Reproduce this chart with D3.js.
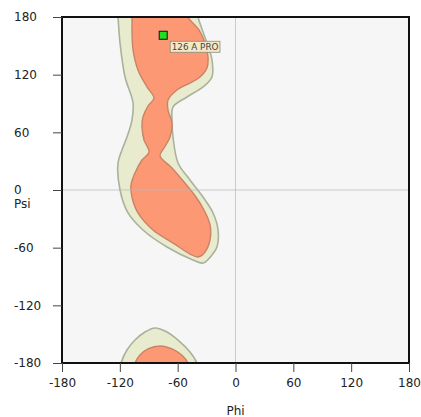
<!DOCTYPE html>
<html>
<head>
<meta charset="utf-8">
<script src="https://cdn.jsdelivr.net/npm/d3@7"></script>
<style>
  html, body { margin: 0; padding: 0; background: #fff; }
  svg { display: block; font-family: "DejaVu Sans", sans-serif; }
</style>
</head>
<body>
<svg id="chart" width="421" height="417"></svg>
<script>
// ---- data (phi, psi in degrees) ----
const tickValues = [-180, -120, -60, 0, 60, 120, 180];
const tickLabels = ["-180", "-120", "-60", "0", "60", "120", "180"];
const xLabel = "Phi";
const yLabel = "Psi";

// allowed (outer) contour, main body (extends past psi=180, periodic)
const allowedMain = [
  [-122.9, 192.5], [-121.9, 180], [-119.8, 152.9], [-114.6, 117.6], [-106.3, 90.5],
  [-107.4, 72.8], [-112.6, 55.1], [-117.8, 41.6], [-121.9, 28.1], [-119.8, 0],
  [-111.5, -23.9], [-96.0, -41.6], [-71.1, -59.3], [-44.1, -72.8], [-33.7, -76.0],
  [-24.4, -67.6], [-19.2, -59.3], [-18.1, -41.6], [-23.3, -23.9], [-33.7, -7.3],
  [-47.2, 10.4], [-59.6, 28.1], [-64.8, 55.1], [-65.9, 72.8], [-64.8, 86.4],
  [-50.3, 96.8], [-33.7, 107.2], [-24.4, 117.6], [-24.4, 135.3], [-29.6, 152.9],
  [-38.9, 180], [-41.0, 192.5]
];
// allowed contour, wrapped part at psi=-180
const allowedBottom = [
  [-120.9, -189.4], [-118.8, -180], [-112.6, -166.5], [-104.3, -156.1], [-93.9, -147.8],
  [-83.5, -143.6], [-73.1, -146.7], [-59.6, -156.1], [-47.2, -168.6], [-40.0, -180],
  [-37.9, -189.4]
];
// favored (inner) contour, main body
const favoredMain = [
  [-108.4, 192.5], [-107.4, 180], [-107.4, 166.5], [-106.3, 145.7], [-101.2, 124.9],
  [-91.8, 107.2], [-84.6, 95.7], [-90.8, 87.4], [-96.0, 75.9], [-97.0, 65.5],
  [-94.9, 52.0], [-89.7, 39.5], [-97.0, 31.2], [-104.3, 17.7], [-108.4, 5.2],
  [-107.4, -7.3], [-101.2, -23.9], [-85.6, -41.6], [-64.8, -55.2], [-47.2, -66.6],
  [-38.9, -69.7], [-31.6, -64.5], [-26.4, -52.0], [-26.4, -36.4], [-32.7, -20.8],
  [-41.0, -7.3], [-53.4, 8.3], [-65.9, 22.9], [-78.3, 35.4], [-74.2, 43.7],
  [-67.9, 55.1], [-65.9, 69.7], [-70.0, 83.2], [-70.0, 93.6], [-60.7, 104.0],
  [-47.2, 111.3], [-36.8, 117.6], [-29.6, 126.9], [-28.5, 138.4], [-31.6, 152.9],
  [-37.9, 166.5], [-49.3, 180], [-51.4, 192.5]
];
// favored contour, wrapped part at psi=-180
const favoredBottom = [
  [-106.3, -189.4], [-104.3, -180], [-99.1, -171.7], [-90.8, -165.4], [-78.3, -162.3],
  [-65.9, -165.4], [-55.5, -172.0], [-49.3, -180], [-47.2, -189.4]
];

// residue point
const residues = [{ label: "126 A PRO", phi: -75, psi: 161 }];

// ---- layout ----
const svg = d3.select("#chart");
const L = 62, R = 409, T = 17, B = 363;
const x = d3.scaleLinear().domain([-180, 180]).range([L, R]);
const y = d3.scaleLinear().domain([-180, 180]).range([B, T]);
const fmt = d => tickLabels[tickValues.indexOf(d)];

svg.append("defs").append("clipPath").attr("id", "plotclip")
  .append("rect").attr("x", L).attr("y", T).attr("width", R - L).attr("height", B - T);

svg.append("rect").attr("x", L).attr("y", T).attr("width", R - L).attr("height", B - T)
  .attr("fill", "#f6f6f7");

const plot = svg.append("g").attr("clip-path", "url(#plotclip)");
const line = d3.line().x(d => x(d[0])).y(d => y(d[1])).curve(d3.curveCatmullRomClosed.alpha(0.5));

[allowedMain, allowedBottom].forEach(pts => {
  plot.append("path").attr("d", line(pts))
    .attr("fill", "#e9ebcf").attr("stroke", "#a9b29c").attr("stroke-width", 1.6);
});
[favoredMain, favoredBottom].forEach(pts => {
  plot.append("path").attr("d", line(pts))
    .attr("fill", "#fc9874").attr("stroke", "#c98468").attr("stroke-width", 1.4);
});

// zero grid lines
plot.append("line").attr("x1", x(0)).attr("x2", x(0)).attr("y1", T).attr("y2", B)
  .attr("stroke", "#b8b8b8").attr("stroke-opacity", 0.7).attr("stroke-width", 1);
plot.append("line").attr("x1", L).attr("x2", R).attr("y1", y(0)).attr("y2", y(0))
  .attr("stroke", "#b8b8b8").attr("stroke-opacity", 0.7).attr("stroke-width", 1);

// border
svg.append("rect").attr("x", L).attr("y", T).attr("width", R - L).attr("height", B - T)
  .attr("fill", "none").attr("stroke", "#111").attr("stroke-width", 2);

// axes
const yAxis = svg.append("g").attr("transform", `translate(${L},0)`)
  .call(d3.axisLeft(y).tickValues(tickValues).tickSize(9).tickFormat(fmt));
yAxis.select(".domain").remove();
yAxis.selectAll(".tick line").attr("stroke", "#444");
yAxis.selectAll(".tick text").attr("x", 14 - L).attr("text-anchor", "start")
  .attr("font-size", 12).attr("font-family", "DejaVu Sans, sans-serif").attr("fill", "#222");

const xAxis = svg.append("g").attr("transform", `translate(0,${B})`)
  .call(d3.axisBottom(x).tickValues(tickValues).tickSize(9).tickPadding(6).tickFormat(fmt));
xAxis.select(".domain").remove();
xAxis.selectAll(".tick line").attr("stroke", "#444");
xAxis.selectAll(".tick text").attr("font-size", 12)
  .attr("font-family", "DejaVu Sans, sans-serif").attr("fill", "#222");

svg.append("text").attr("x", 14).attr("y", 208).text(yLabel)
  .attr("font-size", 12).attr("fill", "#222");
svg.append("text").attr("x", x(0)).attr("y", 415).attr("text-anchor", "middle").text(xLabel)
  .attr("font-size", 12).attr("fill", "#222");

// residue marker + label
residues.forEach(r => {
  const cx = x(r.phi), cy = y(r.psi);
  svg.append("rect").attr("x", cx - 4).attr("y", cy - 4).attr("width", 8).attr("height", 8)
    .attr("fill", "#22dd22").attr("stroke", "#111").attr("stroke-width", 1);
  const g = svg.append("g").attr("transform", `translate(${cx + 7},${cy + 6})`);
  const t = g.append("text").attr("x", 1.5).attr("y", 8.8).text(r.label)
    .attr("font-size", 8.8).attr("fill", "#444");
  const w = t.node().getComputedTextLength();
  g.insert("rect", "text").attr("x", 0).attr("y", 0).attr("width", w + 3).attr("height", 11)
    .attr("fill", "#f1e9c8").attr("stroke", "#8a8a7a").attr("stroke-width", 0.8);
});
</script>
</body>
</html>
